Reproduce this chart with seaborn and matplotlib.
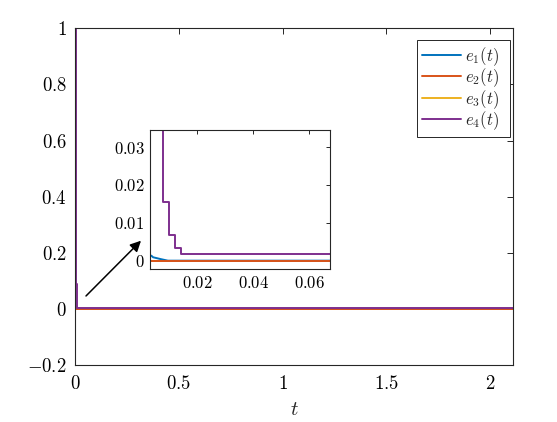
import numpy as np
import pandas as pd
import matplotlib
matplotlib.use("Agg")
import matplotlib.pyplot as plt
import seaborn as sns

# ---- data ----
t_e1 = [0.0, 0.0030, 0.0036, 0.0042, 0.0070, 0.0095, 2.11]
e1 = [0.29, 0.0014, 0.0013, 0.0009, 0.0004, 0.0, 0.0]
t_e2 = [0.0, 2.11]
e2 = [0.0, 0.0]
t_e3 = [0.0, 2.11]
e3 = [0.0, 0.0]
t_e4 = [0.0, 0.0025, 0.0050, 0.0076, 0.0100, 0.0120, 0.0141, 2.11]
e4 = [1.0, 0.35, 0.09, 0.0156, 0.0068, 0.0033, 0.0017, 0.0017]

labels = [r"$e_1(t)$", r"$e_2(t)$", r"$e_3(t)$", r"$e_4(t)$"]
colors = ["#0072BD", "#D95319", "#EDB120", "#7E2F8E"]

main_xticks = [0, 0.5, 1, 1.5, 2]
main_yticks = [-0.2, 0, 0.2, 0.4, 0.6, 0.8, 1]
inset_xticks = [0.02, 0.04, 0.06]
inset_yticks = [0, 0.01, 0.02, 0.03]

series = [(t_e1, e1), (t_e2, e2), (t_e3, e3), (t_e4, e4)]
frames = []
for lab, (tt, ee) in zip(labels, series):
    frames.append(pd.DataFrame({"t": tt, "e": ee, "series": lab}))
df = pd.concat(frames, ignore_index=True)

sns.set_style("white")
plt.rcParams["mathtext.fontset"] = "cm"
plt.rcParams["font.family"] = ["DejaVu Serif"]

fig = plt.figure(figsize=(5.57, 4.22), dpi=100)
ax = fig.add_axes([75 / 557, 1 - 365 / 422, (513.3 - 75) / 557, (365 - 28.3) / 422])
axin = fig.add_axes([150 / 557, 1 - 269 / 422, 180 / 557, 139 / 422])

zorders = [2.2, 2.3, 2.1, 2.4]


def draw(a, lw):
    handles = []
    for lab, col, z in zip(labels, colors, zorders):
        sub = df[df["series"] == lab]
        ds = "steps-post" if lab == labels[3] else "default"
        sns.lineplot(data=sub, x="t", y="e", ax=a, color=col, lw=lw,
                     estimator=None, sort=False, drawstyle=ds, zorder=z,
                     legend=False)
        handles.append(a.lines[-1])
    return handles


handles = draw(ax, 1.4)
draw(axin, 1.4)

edge = "#262626"
for a in (ax, axin):
    for sp in a.spines.values():
        sp.set_color(edge)
        sp.set_linewidth(0.8)
        sp.set_visible(True)
    a.tick_params(direction="in", top=True, right=True, length=4, width=0.7,
                  colors=edge, labelcolor="black")
    a.set_xlabel("")
    a.set_ylabel("")

ax.set_xlim(0, 2.112)
ax.set_ylim(-0.2, 1)
ax.set_xticks(main_xticks)
ax.set_xticklabels([f"${v:g}$" for v in main_xticks], fontsize=13.5)
ax.set_yticks(main_yticks)
ax.set_yticklabels([f"${v:g}$" for v in main_yticks], fontsize=13.5)
ax.tick_params(axis="x", pad=7)
ax.tick_params(axis="y", pad=6)
ax.set_xlabel(r"$t$", fontsize=15, labelpad=5)

axin.set_xlim(0.0031, 0.0674)
axin.set_ylim(-0.0022, 0.0345)
axin.set_xticks(inset_xticks)
axin.set_xticklabels([f"${v:g}$" for v in inset_xticks], fontsize=12)
axin.set_yticks(inset_yticks)
axin.set_yticklabels([f"${v:g}$" for v in inset_yticks], fontsize=12)
axin.tick_params(length=3, pad=4)

ax.annotate("", xy=(0.318, 0.243), xytext=(0.053, 0.046),
            arrowprops=dict(arrowstyle="-|>", color="black", lw=1.1,
                            mutation_scale=16, shrinkA=0, shrinkB=0))

leg = ax.legend(handles, labels, loc="upper left",
                bbox_to_anchor=(0.780, 0.5, 0.2125, 0.465), mode="expand",
                borderaxespad=0,
                fontsize=12, handlelength=2.35, handletextpad=0.25,
                labelspacing=-0.08, borderpad=0.3, fancybox=False,
                framealpha=1, edgecolor=edge)
leg.get_frame().set_linewidth(0.7)

fig.savefig("out.png", dpi=100, facecolor="white")
